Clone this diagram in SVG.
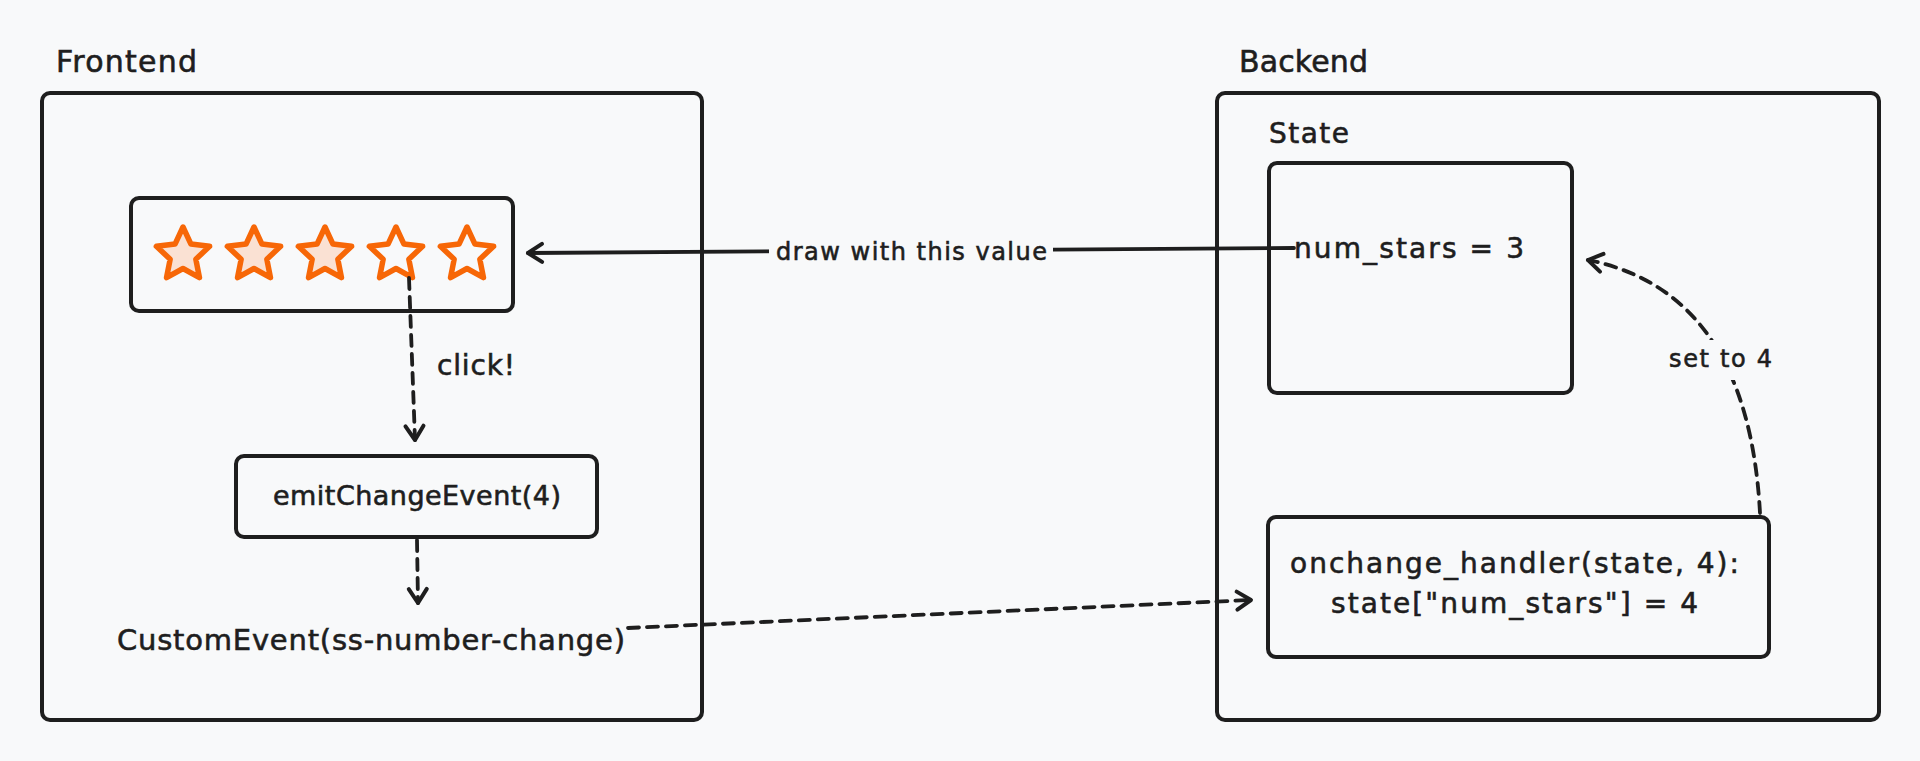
<svg xmlns="http://www.w3.org/2000/svg" xmlns:xlink="http://www.w3.org/1999/xlink" width="1920" height="761" viewBox="0 0 1920 761">
<style>
  .bg { fill: #f8f9fa; }
  .box { fill: none; stroke: #1e1e1e; stroke-width: 4; }
  .txt { font-family: "DejaVu Sans", "Liberation Sans", sans-serif; fill: #1e1e1e; stroke: #1e1e1e; stroke-width: 0.6; }
  .conn { fill: none; stroke: #1e1e1e; stroke-width: 3.8; stroke-linecap: round; }
  .dash { stroke-dasharray: 11 8; }
  .star { stroke: #f76707; stroke-width: 5.5; stroke-linejoin: round; }
  .on { fill: #fae1d3; }
  .off { fill: #f8f9fa; }
</style>
<defs>
  <path id="star" d="M0,-28 L7.94,-10.92 L26.63,-8.65 L12.84,4.17 L16.46,22.65 L0,13.5 L-16.46,22.65 L-12.84,4.17 L-26.63,-8.65 L-7.94,-10.92 Z"/>
  <marker id="arrow" markerUnits="userSpaceOnUse" viewBox="-18 -12 22 24" refX="0" refY="0" markerWidth="22" markerHeight="24" orient="auto">
    <path d="M-14,-9 L0,0 L-14,9" fill="none" stroke="#1e1e1e" stroke-width="4" stroke-linecap="round" stroke-linejoin="round"/>
  </marker>
</defs>
<rect class="bg" x="0" y="0" width="1920" height="761"/>

<g id="frontend">
  <rect class="box" x="42" y="93" width="660" height="627" rx="8"/>
  <text class="txt" x="56" y="72" font-size="30" textLength="141" lengthAdjust="spacing">Frontend</text>
</g>

<g id="backend">
  <rect class="box" x="1217" y="93" width="662" height="627" rx="8"/>
  <text class="txt" x="1239" y="72" font-size="30" textLength="129" lengthAdjust="spacing">Backend</text>
</g>

<g id="state">
  <text class="txt" x="1269" y="143" font-size="28" textLength="80" lengthAdjust="spacing">State</text>
  <rect class="box" x="1269" y="163" width="303" height="230" rx="8"/>
  <text class="txt" x="1294" y="258" font-size="28" textLength="230" lengthAdjust="spacing">num_stars = 3</text>
</g>

<g id="handler">
  <rect class="box" x="1268" y="517" width="501" height="140" rx="8"/>
  <text class="txt" x="1290" y="573" font-size="28" textLength="449" lengthAdjust="spacing">onchange_handler(state, 4):</text>
  <text class="txt" x="1331" y="613" font-size="28" textLength="367" lengthAdjust="spacing">state["num_stars"] = 4</text>
</g>

<g id="stars">
  <rect class="box" x="131" y="198" width="382" height="113" rx="8"/>
  <use href="#star" x="183" y="255" class="star on"/>
  <use href="#star" x="254" y="255" class="star on"/>
  <use href="#star" x="325" y="255" class="star on"/>
  <use href="#star" x="396" y="255" class="star off"/>
  <use href="#star" x="467" y="255" class="star off"/>
</g>

<g id="emit">
  <rect class="box" x="236" y="456" width="361" height="81" rx="8"/>
  <text class="txt" x="273" y="505" font-size="27" textLength="288" lengthAdjust="spacing">emitChangeEvent(4)</text>
</g>

<g id="custom-event">
  <text class="txt" x="117" y="650" font-size="29" textLength="508" lengthAdjust="spacing">CustomEvent(ss-number-change)</text>
</g>

<g id="connectors">
  <path class="conn" d="M1294,248 L528,253" marker-end="url(#arrow)"/>
  <path class="conn dash" d="M409,278 L415,440" marker-end="url(#arrow)"/>
  <path class="conn dash" d="M417,540 L418,603" marker-end="url(#arrow)"/>
  <path class="conn dash" d="M628,628 L1251,600" marker-end="url(#arrow)"/>
  <path class="conn dash" d="M1760,513 Q1748,292 1588,260" marker-end="url(#arrow)"/>
  <rect class="bg" x="769" y="236" width="284" height="30"/>
  <text class="txt" x="776" y="260" font-size="24" textLength="271" lengthAdjust="spacing">draw with this value</text>
  <text class="txt" x="437" y="375" font-size="28" textLength="78" lengthAdjust="spacing">click!</text>
  <rect class="bg" x="1664" y="340" width="114" height="40"/>
  <text class="txt" x="1669" y="367" font-size="24" textLength="103" lengthAdjust="spacing">set to 4</text>
</g>
</svg>
